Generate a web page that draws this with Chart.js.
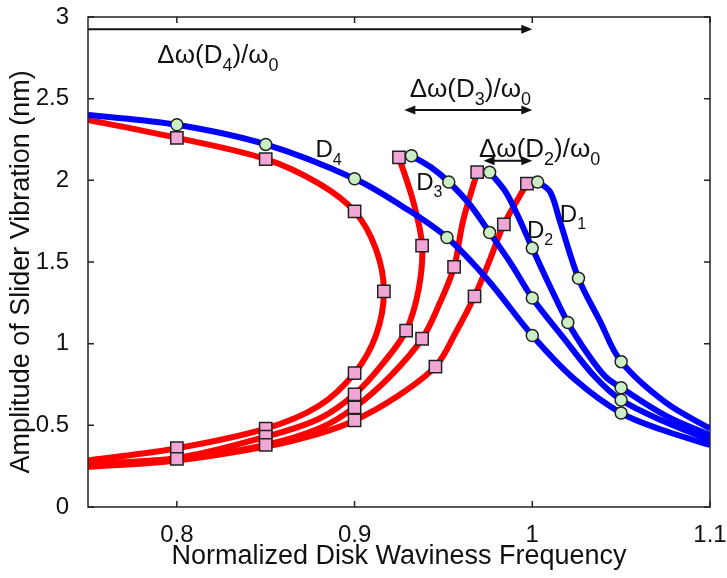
<!DOCTYPE html>
<html>
<head>
<meta charset="utf-8">
<script src="https://cdn.jsdelivr.net/npm/chart.js@4.4.1/dist/chart.umd.min.js"></script>
<style>
  html, body { margin: 0; padding: 0; background: #fff; }
  #wrap { width: 727px; height: 578px; }
</style>
</head>
<body>
<div id="wrap"><canvas id="chart"></canvas></div>
<script>
// axis ticks
const xTicks = [0.8, 0.9, 1, 1.1]
const yTicks = [0, 0.5, 1, 1.5, 2, 2.5, 3]

// red branches (lower + unstable middle)
const d4RedX = [0.75, 0.8, 0.85, 0.88, 0.9, 0.912, 0.9165, 0.912, 0.9, 0.88, 0.85, 0.8, 0.75]
const d4RedY = [0.285, 0.36, 0.48, 0.62, 0.82, 1.05, 1.32, 1.58, 1.81, 1.98, 2.13, 2.26, 2.37]
const d3RedX = [0.75, 0.8, 0.85, 0.88, 0.9, 0.916, 0.929, 0.936, 0.938, 0.933, 0.925]
const d3RedY = [0.265, 0.3, 0.43, 0.54, 0.69, 0.88, 1.08, 1.33, 1.6, 1.87, 2.14]
const d2RedX = [0.75, 0.8, 0.85, 0.88, 0.9, 0.92, 0.938, 0.948, 0.956, 0.961, 0.969]
const d2RedY = [0.255, 0.29, 0.38, 0.48, 0.61, 0.8, 1.03, 1.25, 1.47, 1.75, 2.05]
const d1RedX = [0.75, 0.8, 0.85, 0.88, 0.9, 0.923, 0.9455, 0.957, 0.9675, 0.976, 0.984, 0.997]
const d1RedY = [0.245, 0.285, 0.37, 0.45, 0.53, 0.67, 0.86, 1.07, 1.29, 1.51, 1.73, 1.98]

// blue upper branches
const d4BlueX = [0.75, 0.8, 0.85, 0.9, 0.927, 0.952, 0.975, 1.0, 1.024, 1.05, 1.075, 1.1]
const d4BlueY = [2.4, 2.34, 2.22, 2.01, 1.84, 1.65, 1.39, 1.05, 0.78, 0.575, 0.465, 0.38]
const d3BlueX = [0.932, 0.943, 0.953, 0.965, 0.976, 0.988, 1.0, 1.018, 1.035, 1.05, 1.075, 1.1]
const d3BlueY = [2.15, 2.08, 1.99, 1.85, 1.68, 1.49, 1.28, 1.03, 0.8, 0.655, 0.52, 0.41]
const d2BlueX = [0.976, 0.985, 0.992, 1.0, 1.01, 1.02, 1.031, 1.041, 1.05, 1.075, 1.1]
const d2BlueY = [2.05, 1.93, 1.78, 1.585, 1.35, 1.13, 0.94, 0.8, 0.73, 0.56, 0.44]
const d1BlueX = [1.003, 1.01, 1.0155, 1.026, 1.038, 1.05, 1.075, 1.1]
const d1BlueY = [1.99, 1.93, 1.75, 1.4, 1.14, 0.89, 0.64, 0.48]

// simulation markers
const circleX = [0.8, 0.85, 0.9, 0.952, 1.0, 1.05, 0.932, 0.953, 0.976, 1.0, 1.05, 0.976, 1.0, 1.02, 1.05, 1.003, 1.026, 1.05]
const circleY = [2.34, 2.22, 2.01, 1.65, 1.05, 0.575, 2.15, 1.99, 1.68, 1.28, 0.655, 2.05, 1.585, 1.13, 0.73, 1.99, 1.4, 0.89]
const squareX = [0.8, 0.85, 0.9, 0.9165, 0.9, 0.85, 0.8, 0.8, 0.85, 0.9, 0.929, 0.938, 0.925, 0.85, 0.9, 0.938, 0.956, 0.969, 0.9, 0.9455, 0.9675, 0.984, 0.997]
const squareY = [0.36, 0.48, 0.82, 1.32, 1.81, 2.13, 2.26, 0.295, 0.43, 0.69, 1.08, 1.6, 2.14, 0.38, 0.61, 1.03, 1.47, 2.05, 0.53, 0.86, 1.29, 1.73, 1.98]

const FONT = '"Liberation Sans", Arial, Helvetica, sans-serif'
const BLUE = '#0000ff'
const RED = '#ff0000'
const Y_TITLE = 'Amplitude of Slider Vibration (nm)'

const pts = (xs, ys) => xs.map((x, i) => ({x: x, y: ys[i]}))
const curve = (xs, ys, color, order) => ({
  data: pts(xs, ys), borderColor: color, backgroundColor: color, borderWidth: 6,
  pointRadius: 0, pointHoverRadius: 0, tension: 0.35, fill: false, order: order
})

// text and arrows drawn on top (data coordinates)
const notes = [
  {parts: [['Δω(D', 0], ['4', 1], [')/ω', 0], ['0', 1]], x: 0.789, y: 2.72, size: 26},
  {parts: [['Δω(D', 0], ['3', 1], [')/ω', 0], ['0', 1]], x: 0.931, y: 2.51, size: 26},
  {parts: [['Δω(D', 0], ['2', 1], [')/ω', 0], ['0', 1]], x: 0.970, y: 2.143, size: 26},
  {parts: [['D', 0], ['4', 1]], x: 0.878, y: 2.14, size: 24},
  {parts: [['D', 0], ['3', 1]], x: 0.9347, y: 1.94, size: 24},
  {parts: [['D', 0], ['2', 1]], x: 0.997, y: 1.65, size: 24},
  {parts: [['D', 0], ['1', 1]], x: 1.0155, y: 1.745, size: 24}
]
const arrows = [
  {x0: 0.75, x1: 1.0, y: 2.925, left: false},
  {x0: 0.928, x1: 1.0, y: 2.43, left: true},
  {x0: 0.9726, x1: 1.0, y: 2.12, left: true}
]

function drawRich(ctx, parts, x, y, size) {
  let cx = x
  parts.forEach(([txt, sub]) => {
    const s = sub ? Math.round(size * 0.68) : size
    ctx.font = s + 'px ' + FONT
    ctx.fillText(txt, cx, sub ? y + size * 0.3 : y)
    cx += ctx.measureText(txt).width
  })
}

function head(ctx, x, y, dir) {
  ctx.beginPath()
  ctx.moveTo(x, y)
  ctx.lineTo(x - dir * 11, y - 4.5)
  ctx.lineTo(x - dir * 11, y + 4.5)
  ctx.closePath()
  ctx.fill()
}

const framePlugin = {
  id: 'frame',
  afterDatasetsDraw(chart) {
    const {ctx, chartArea: a, scales: {x, y}} = chart
    ctx.save()
    ctx.strokeStyle = '#222'
    ctx.lineWidth = 1.5
    ctx.strokeRect(a.left, a.top, a.right - a.left, a.bottom - a.top)
    ctx.beginPath()
    x.ticks.forEach(t => {
      const px = x.getPixelForValue(t.value)
      ctx.moveTo(px, a.bottom); ctx.lineTo(px, a.bottom - 6)
      ctx.moveTo(px, a.top); ctx.lineTo(px, a.top + 6)
    })
    y.ticks.forEach(t => {
      const py = y.getPixelForValue(t.value)
      ctx.moveTo(a.left, py); ctx.lineTo(a.left + 6, py)
      ctx.moveTo(a.right, py); ctx.lineTo(a.right - 6, py)
    })
    ctx.stroke()

    ctx.fillStyle = '#111'
    ctx.strokeStyle = '#111'
    ctx.lineWidth = 2
    arrows.forEach(ar => {
      const px0 = x.getPixelForValue(ar.x0)
      const px1 = x.getPixelForValue(ar.x1)
      const py = y.getPixelForValue(ar.y)
      ctx.beginPath()
      ctx.moveTo(px0 + (ar.left ? 6 : 0), py)
      ctx.lineTo(px1 - 6, py)
      ctx.stroke()
      head(ctx, px1, py, 1)
      if (ar.left) head(ctx, px0, py, -1)
    })

    ctx.textBaseline = 'alphabetic'
    ctx.textAlign = 'left'
    notes.forEach(n => {
      drawRich(ctx, n.parts, x.getPixelForValue(n.x), y.getPixelForValue(n.y), n.size)
    })

    // y axis title, sits a little below the plot centre like the original
    ctx.translate(22, a.top + (a.bottom - a.top) * 0.52)
    ctx.rotate(-Math.PI / 2)
    ctx.textAlign = 'center'
    ctx.textBaseline = 'middle'
    ctx.font = '27px ' + FONT
    ctx.fillText(Y_TITLE, 0, 0)
    ctx.restore()
  }
}

new Chart(document.getElementById('chart'), {
  type: 'line',
  data: {
    datasets: [
      {data: pts(circleX, circleY), showLine: false, pointStyle: 'circle', pointRadius: 6, pointHoverRadius: 6,
       pointBorderWidth: 1.5, pointBackgroundColor: '#cbeec6', pointBorderColor: '#222', order: 0},
      {data: pts(squareX, squareY), showLine: false, pointStyle: 'rect', pointRadius: 8.7, pointHoverRadius: 8.7,
       pointBorderWidth: 1.5, pointBackgroundColor: '#f2a6d6', pointBorderColor: '#222', order: 0},
      curve(d4BlueX, d4BlueY, BLUE, 1),
      curve(d3BlueX, d3BlueY, BLUE, 1),
      curve(d2BlueX, d2BlueY, BLUE, 1),
      curve(d1BlueX, d1BlueY, BLUE, 1),
      curve(d4RedX, d4RedY, RED, 2),
      curve(d3RedX, d3RedY, RED, 2),
      curve(d2RedX, d2RedY, RED, 2),
      curve(d1RedX, d1RedY, RED, 2)
    ]
  },
  options: {
    responsive: true,
    maintainAspectRatio: false,
    animation: false,
    events: [],
    layout: {autoPadding: false, padding: {top: 17, right: 17, left: 0, bottom: 0}},
    plugins: {legend: {display: false}, tooltip: {enabled: false}},
    scales: {
      x: {
        type: 'linear', min: 0.75, max: 1.1,
        afterBuildTicks: s => { s.ticks = xTicks.map(v => ({value: v})) },
        afterFit: s => { s.height = 71; s.paddingLeft = 0; s.paddingRight = 0 },
        grid: {display: false}, border: {display: false},
        ticks: {font: {size: 24, family: FONT}, color: '#111', padding: 6, maxRotation: 0,
                callback: v => String(v)},
        title: {display: true, text: 'Normalized Disk Waviness Frequency',
                font: {size: 27, family: FONT}, color: '#111', padding: {top: 0, bottom: 5}}
      },
      y: {
        min: 0, max: 3,
        afterBuildTicks: s => { s.ticks = yTicks.map(v => ({value: v})) },
        afterFit: s => { s.width = 88; s.paddingTop = 0; s.paddingBottom = 0 },
        grid: {display: false}, border: {display: false},
        ticks: {font: {size: 24, family: FONT}, color: '#111', padding: 11,
                callback: v => String(v)}
      }
    }
  },
  plugins: [framePlugin]
})
</script>
</body>
</html>
